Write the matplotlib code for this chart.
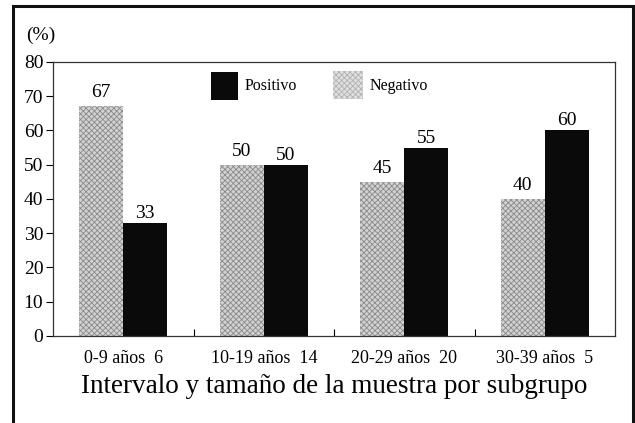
import matplotlib.pyplot as plt
from matplotlib.patches import Rectangle
import numpy as np

# datos
grupos = ["0-9 años  6", "10-19 años  14", "20-29 años  20", "30-39 años  5"]
negativo = [67, 50, 45, 40]
positivo = [33, 50, 55, 60]

plt.rcParams['font.family'] = ['Liberation Serif', 'DejaVu Serif']
plt.rcParams['hatch.linewidth'] = 0.6

fig = plt.figure(figsize=(6.35, 4.23), dpi=100)
ax = fig.add_axes([0.0835, 0.2057, 0.885, 0.648])

# marco exterior
fig.patches.append(Rectangle((0.02, -0.05), 0.977, 1.035, transform=fig.transFigure,
                             fill=False, edgecolor='#111111', linewidth=2.2))

x = np.arange(len(grupos))
w = 0.313
gris = dict(color='#d2d2d2', hatch='xxxxxx', edgecolor='#8a8a8a', linewidth=0)
b1 = ax.bar(x - w / 2, negativo, w, **gris)
b2 = ax.bar(x + w / 2, positivo, w, color='#0a0a0a', edgecolor='#0a0a0a', linewidth=0)

for xi, v in zip(x - w / 2, negativo):
    ax.text(xi, v + 1.5, str(v), ha='center', va='bottom', fontsize=14)
for xi, v in zip(x + w / 2, positivo):
    ax.text(xi, v + 0.3, str(v), ha='center', va='bottom', fontsize=14)

ax.set_xlim(-0.5, len(grupos) - 0.5)
ax.set_ylim(0, 80)
ax.set_yticks(range(0, 81, 10))
ax.tick_params(axis='y', labelsize=14, direction='out', length=5, width=0.8, pad=2)
ax.set_xticks(x)
ax.set_xticklabels(grupos, fontsize=13)
ax.tick_params(axis='x', length=0, pad=10)
ax.set_xticks(x[:-1] + 0.5, minor=True)
ax.tick_params(axis='x', which='minor', direction='in', length=5, width=0.8)
for s in ax.spines.values():
    s.set_linewidth(0.9)
    s.set_color('#333333')

ax.set_xlabel("Intervalo y tamaño de la muestra por subgrupo", fontsize=19.5, labelpad=5)
ax.text(-0.021, 1.098, "(%)", transform=ax.transAxes, fontsize=14, ha='center', va='center')

# leyenda
fig.patches.append(Rectangle((211 / 635, 1 - 100 / 423), 27 / 635, 28 / 423,
                             transform=fig.transFigure, facecolor='#0a0a0a', edgecolor='none'))
fig.text(245 / 635, 1 - 86 / 423, "Positivo", fontsize=11.5, va='center')
fig.patches.append(Rectangle((333 / 635, 1 - 99 / 423), 30 / 635, 28 / 423,
                             transform=fig.transFigure, facecolor='#e0e0e0', hatch='xxxxxx',
                             edgecolor='#b0b0b0', linewidth=0))
fig.text(370 / 635, 1 - 86 / 423, "Negativo", fontsize=11.5, va='center')

fig.savefig("out.png", dpi=100)
